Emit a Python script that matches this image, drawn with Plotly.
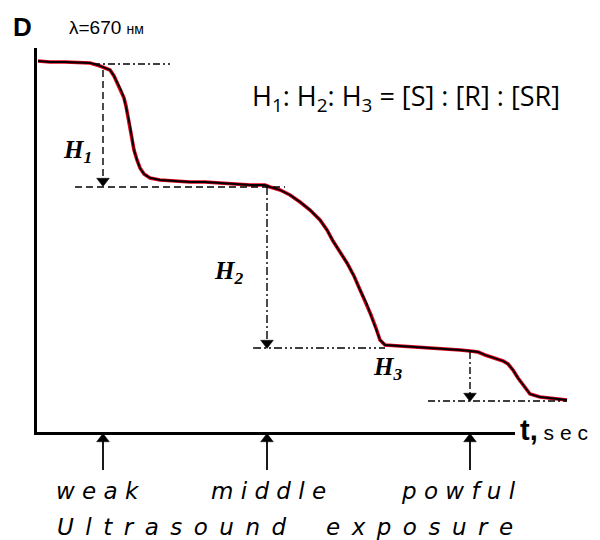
import plotly.graph_objects as go

# ---- data (time in arbitrary s, signal in arbitrary units) ----
t = [0.2, 2.6, 5.6, 8.6, 10.6, 12.6, 13.6, 14.6, 15.4, 16.2, 16.8, 17.4, 17.8, 18.2, 18.6,
     19.0, 19.4, 20.0, 20.6, 21.4, 22.6, 24.6, 27.6, 30.6, 33.6, 36.6, 39.6, 42.6, 45.6,
     46.6, 48.6, 50.6, 52.6, 54.6, 56.6, 58.0, 59.2, 60.6, 62.0, 63.4, 64.6, 65.8, 66.8,
     67.8, 68.6, 69.6, 72.6, 76.6, 80.6, 84.6, 86.6, 88.2, 89.6, 91.6, 93.2, 94.2, 95.2,
     96.2, 97.2, 98.6, 100.6, 103.6, 106.0]
A = [92.75, 92.5, 92.5, 92.25, 92.25, 91.5, 91.0, 90.5, 89.0, 87.0, 85.5, 83.5, 81.5, 79.0, 76.5,
     73.5, 70.5, 68.0, 66.0, 64.5, 63.5, 63.0, 62.75, 62.5, 62.5, 62.25, 62.0, 61.75, 61.75,
     61.25, 60.5, 59.25, 57.5, 55.5, 53.0, 50.5, 47.75, 45.0, 42.25, 39.0, 35.5, 32.5, 29.25,
     26.0, 23.0, 21.75, 21.5, 21.25, 21.0, 20.5, 20.25, 20.0, 19.25, 18.5, 17.75, 17.0, 15.5,
     13.5, 11.75, 9.5, 8.75, 8.25, 8.0]

# guide lines
h1_top_t, h1_top_A = [11.2, 26.6], [92.0, 92.0]
h1_vert_t, h1_vert_A = [13.2, 13.2], [90.5, 61.5]
h1_bot_t, h1_bot_A = [7.6, 49.6], [61.25, 61.25]
h2_vert_t, h2_vert_A = [46.0, 46.0], [61.25, 21.0]
h2_bot_t, h2_bot_A = [43.2, 69.6], [21.0, 21.0]
h3_vert_t, h3_vert_A = [86.6, 86.6], [20.0, 7.75]
h3_bot_t, h3_bot_A = [78.2, 106.0], [7.75, 7.75]

# exposure markers (below the time axis)
exposure_t = [13.2, 46.0, 86.6]
exposure_arrow = [70, 106]   # tail, tip on the lower helper axis
exposure_labels = ["w e a k", "m i d d l e", "p o w f u l"]

fig = go.Figure()
fig.add_trace(go.Scatter(x=t, y=A, mode="lines", line=dict(color="#e3001b", width=3.6),
                         hoverinfo="skip"))
fig.add_trace(go.Scatter(x=t, y=A, mode="lines", line=dict(color="black", width=1.8),
                         hoverinfo="skip"))

dashdot = "7px,3px,2px,3px"
guides = [
    (h1_top_t, h1_top_A, dashdot, False),
    (h1_vert_t, h1_vert_A, "7px,4px", True),
    (h1_bot_t, h1_bot_A, "7px,4px", False),
    (h2_vert_t, h2_vert_A, "8px,3px,2px,3px", True),
    (h2_bot_t, h2_bot_A, "8px,3px,2px,3px,2px,3px", False),
    (h3_vert_t, h3_vert_A, dashdot, True),
    (h3_bot_t, h3_bot_A, dashdot, False),
]
head = dict(symbol="triangle-up", size=[0, 11], angleref="previous", standoff=5,
            color="#000000", opacity=1, line=dict(color="#000000", width=0.5))
for gx, gy, d, arrow in guides:
    kw = {}
    mode = "lines"
    if arrow:
        mode = "lines+markers"
        kw["marker"] = head
    fig.add_trace(go.Scatter(x=gx, y=gy, mode=mode, cliponaxis=False,
                             line=dict(color="black", width=1.4, dash=d), hoverinfo="skip", **kw))

for xt in exposure_t:
    fig.add_trace(go.Scatter(x=[xt, xt], y=exposure_arrow, yaxis="y2", mode="lines+markers",
                             cliponaxis=False, line=dict(color="black", width=1.8),
                             marker=head, hoverinfo="skip"))

# invisible trace on the axis-line x axis
fig.add_trace(go.Scatter(x=[0], y=[0], xaxis="x2", yaxis="y", mode="markers",
                         marker=dict(opacity=0), hoverinfo="skip"))

sans = "Liberation Sans"
serif = "Liberation Serif"
ann = [
    dict(x=22 / 600, y=1 - 27 / 540, text="<b>D</b>", font=dict(family=sans, size=26, color="black")),
    dict(x=106 / 600, y=1 - 28 / 540, text="λ=670 <span style='font-size:14px'>нм</span>",
         font=dict(family=sans, size=19, color="black")),
    dict(x=406 / 600, y=1 - 98 / 540,
         text="H<sub>1</sub>: H<sub>2</sub>: H<sub>3</sub> = [S] : [R] : [SR]",
         font=dict(family="Open Sans", size=27, color="black")),
    dict(x=77 / 600, y=1 - 152 / 540, text="<b><i>H<sub>1</sub></i></b>",
         font=dict(family=serif, size=25, color="black")),
    dict(x=228 / 600, y=1 - 272 / 540, text="<b><i>H<sub>2</sub></i></b>",
         font=dict(family=serif, size=25, color="black")),
    dict(x=388 / 600, y=1 - 368 / 540, text="<b><i>H<sub>3</sub></i></b>",
         font=dict(family=serif, size=25, color="black")),
    dict(x=518 / 600, y=1 - 430 / 540, xanchor="left",
         text="<b>t,</b><span style='font-size:21px'> s e c</span>",
         font=dict(family=sans, size=29, color="black")),
]
label_x = [98 / 600, 268 / 600, 458 / 600]
for xp, lab in zip(label_x, exposure_labels):
    ann.append(dict(x=xp, y=1 - 491 / 540, text="<i>" + lab + "</i>",
                    font=dict(family="DejaVu Sans", size=23, color="black")))
ann.append(dict(x=172 / 600, y=1 - 527 / 540,
                text="<i>U\u2002l\u2002t\u2002r\u2002a\u2002s\u2002o\u2002u\u2002n\u2002d</i>",
                font=dict(family="DejaVu Sans", size=23, color="black")))
ann.append(dict(x=419 / 600, y=1 - 527 / 540,
                text="<i>e\u2002x\u2002p\u2002o\u2002s\u2002u\u2002r\u2002e</i>",
                font=dict(family="DejaVu Sans", size=23, color="black")))
for a in ann:
    a.setdefault("xref", "paper")
    a.setdefault("yref", "paper")
    a.setdefault("showarrow", False)
    a.setdefault("xanchor", "center")
    a.setdefault("yanchor", "middle")

fig.update_layout(
    width=600, height=540, margin=dict(l=0, r=0, t=0, b=0),
    paper_bgcolor="white", plot_bgcolor="rgba(0,0,0,0)", showlegend=False,
    xaxis=dict(domain=[37 / 600, 575 / 600], range=[0, 107.6], visible=False),
    xaxis2=dict(domain=[37 / 600, 515 / 600], anchor="y", range=[0, 95.6], showline=True,
                linecolor="black", linewidth=3, showticklabels=False, ticks="",
                showgrid=False, zeroline=False),
    yaxis=dict(domain=[1 - 432 / 540, 1 - 48 / 540], range=[0, 96], anchor="x", showline=True,
               linecolor="black", linewidth=3, showticklabels=False, ticks="",
               showgrid=False, zeroline=False),
    yaxis2=dict(domain=[0, 1 - 432 / 540], range=[0, 108], anchor="x", visible=False),
    annotations=ann,
)
fig.write_html("out.html")
